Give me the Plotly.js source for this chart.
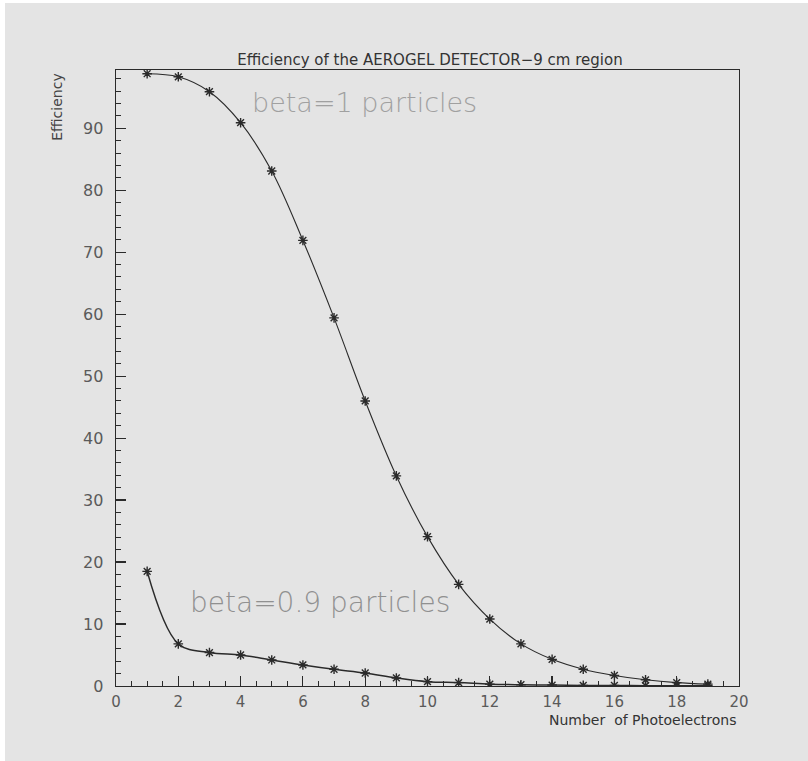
<!DOCTYPE html>
<html>
<head>
<meta charset="utf-8">
<script src="https://cdn.plot.ly/plotly-3.0.1.min.js"></script>
<style>
  html, body { margin: 0; padding: 0; background: #ffffff; }
  #wrap { position: absolute; left: 5px; top: 3px; width: 803px; height: 758px; background: #e4e4e4; }
  #chart { width: 803px; height: 758px; }
</style>
</head>
<body>
<div id="wrap"><div id="chart"></div></div>
<script>
// Number of photoelectrons
const photoelectrons = [1, 2, 3, 4, 5, 6, 7, 8, 9, 10, 11, 12, 13, 14, 15, 16, 17, 18, 19];
// Efficiency (%) for beta = 1 particles
const effBeta1 = [98.8, 98.3, 95.9, 90.9, 83.1, 71.9, 59.4, 46.0, 33.9, 24.1, 16.4, 10.8, 6.8, 4.3, 2.7, 1.7, 1.0, 0.55, 0.3];
// Efficiency (%) for beta = 0.9 particles
const effBeta09 = [18.5, 6.8, 5.4, 5.0, 4.2, 3.4, 2.7, 2.1, 1.3, 0.7, 0.55, 0.3, 0.2, 0.15, 0.1, 0.1, 0.05, 0.05, 0.05];

const titleText = "Efficiency of the AEROGEL DETECTOR\u22129 cm region";
const xTitle = "Number  of Photoelectrons";
const yTitle = "Efficiency";
const label1 = "beta=1 particles";
const label09 = "beta=0.9 particles";
const xTickVals = [0, 2, 4, 6, 8, 10, 12, 14, 16, 18, 20];
const yTickVals = [0, 10, 20, 30, 40, 50, 60, 70, 80, 90];

const ink = "#2a2a2a";
const labelGray = "#5a5a5a";

const traces = [
  {
    x: photoelectrons, y: effBeta1, type: "scatter", mode: "lines+markers",
    line: { color: ink, width: 1.1, shape: "spline", smoothing: 1 },
    marker: { symbol: "asterisk-open", size: 8, color: ink, line: { color: ink, width: 1.4 } },
    hoverinfo: "skip", showlegend: false
  },
  {
    x: photoelectrons, y: effBeta09, type: "scatter", mode: "lines+markers",
    line: { color: ink, width: 1.5, shape: "spline", smoothing: 1 },
    marker: { symbol: "asterisk-open", size: 8, color: ink, line: { color: ink, width: 1.4 } },
    hoverinfo: "skip", showlegend: false
  }
];

const layout = {
  width: 803, height: 758,
  margin: { l: 111, r: 69, t: 67, b: 75 },
  paper_bgcolor: "rgba(0,0,0,0)",
  plot_bgcolor: "rgba(0,0,0,0)",
  font: { family: "DejaVu Sans, sans-serif", color: labelGray },
  title: {
    text: titleText,
    font: { family: "DejaVu Sans, sans-serif", size: 15, color: "#333333" },
    x: 0.504, xref: "paper", xanchor: "center",
    y: 1, yref: "paper", yanchor: "bottom", pad: { b: 5 }
  },
  xaxis: {
    range: [0, 20], autorange: false,
    tickmode: "array", tickvals: xTickVals,
    ticks: "inside", ticklen: 10, tickwidth: 1.2, tickcolor: ink,
    minor: { dtick: 0.5, ticks: "inside", ticklen: 5, tickwidth: 1, tickcolor: ink },
    showline: true, linecolor: ink, linewidth: 1.4, mirror: true,
    showgrid: false, zeroline: false,
    tickfont: { size: 15, color: labelGray, family: "DejaVu Sans, sans-serif" },
    ticklabelstandoff: 2
  },
  yaxis: {
    range: [0, 99.4], autorange: false,
    tickmode: "array", tickvals: yTickVals,
    ticks: "inside", ticklen: 10, tickwidth: 1.2, tickcolor: ink,
    minor: { dtick: 2, ticks: "inside", ticklen: 5, tickwidth: 1, tickcolor: ink },
    showline: true, linecolor: ink, linewidth: 1.4, mirror: true,
    showgrid: false, zeroline: false,
    tickfont: { size: 16, color: labelGray, family: "DejaVu Sans, sans-serif" },
    ticklabelstandoff: 8
  },
  annotations: [
    {
      text: label1, x: 4.3, y: 94.2, xref: "x", yref: "y",
      xanchor: "left", yanchor: "middle", showarrow: false,
      font: { family: "DejaVu Sans, sans-serif", size: 27, color: "#a0a0a0", weight: 300 }
    },
    {
      text: label09, x: 2.3, y: 13.5, xref: "x", yref: "y",
      xanchor: "left", yanchor: "middle", showarrow: false,
      font: { family: "DejaVu Sans, sans-serif", size: 28, color: "#909090", weight: 300 }
    },
    {
      text: xTitle, x: 1, y: -0.056, xref: "paper", yref: "paper",
      xanchor: "right", yanchor: "middle", showarrow: false,
      font: { family: "DejaVu Sans, sans-serif", size: 14, color: "#333333" }
    },
    {
      text: yTitle, x: -0.095, y: 0.94, xref: "paper", yref: "paper",
      xanchor: "center", yanchor: "middle", showarrow: false, textangle: -90,
      font: { family: "DejaVu Sans, sans-serif", size: 14, color: "#444444" }
    }
  ]
};

Plotly.newPlot("chart", traces, layout, { displayModeBar: false, staticPlot: true });
</script>
</body>
</html>
